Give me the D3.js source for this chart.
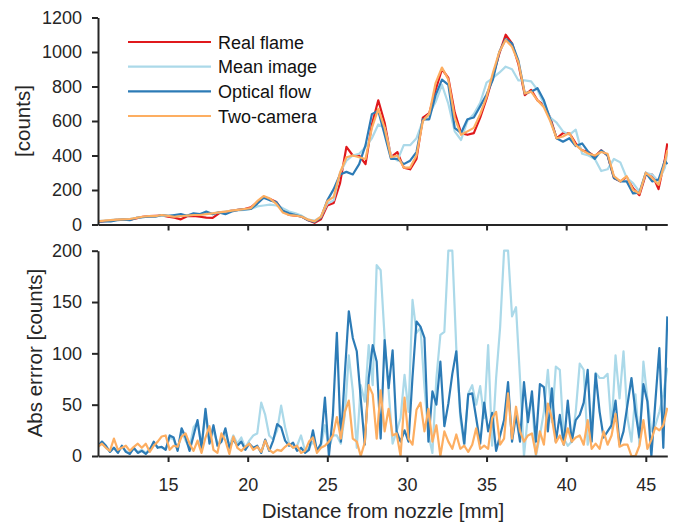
<!DOCTYPE html>
<meta charset="utf-8">
<style>
    body { margin: 0; background: #fff; }
    svg { font-family: "Liberation Sans", Arial, Helvetica, sans-serif; }
    .axis { color: #262626; }
    .axis path, .axis line { stroke: #262626; stroke-width: 2px; }
    .axis text { font-size: 18px; fill: #262626; }
    .title { font-size: 20.5px; fill: #262626; }
    .legend text { font-size: 18px; fill: #111; }
    .series { fill: none; stroke-width: 2.2px; stroke-linejoin: round; }
</style>
<svg width="676" height="525"></svg>
<script src="https://d3js.org/d3.v7.min.js"></script>
<script>

    // top panel: profiles [counts]
    var distTop = [10.6, 11.0, 11.4, 11.8, 12.2, 12.6, 13.0, 13.4, 13.8, 14.2,
        14.6, 15.0, 15.4, 15.8, 16.2, 16.6, 17.0, 17.4, 17.8, 18.2,
        18.6, 19.0, 19.4, 19.8, 20.2, 20.6, 21.0, 21.4, 21.8, 22.2,
        22.6, 23.0, 23.4, 23.8, 24.2, 24.6, 25.0, 25.4, 25.8, 26.2,
        26.6, 27.0, 27.4, 27.8, 28.2, 28.6, 29.0, 29.4, 29.8, 30.2,
        30.6, 31.0, 31.4, 31.8, 32.2, 32.6, 33.0, 33.4, 33.8, 34.2,
        34.6, 35.0, 35.4, 35.8, 36.2, 36.6, 37.0, 37.4, 37.8, 38.2,
        38.6, 39.0, 39.4, 39.8, 40.2, 40.6, 41.0, 41.4, 41.8, 42.2,
        42.6, 43.0, 43.4, 43.8, 44.2, 44.6, 45.0, 45.4, 45.8, 46.2, 46.35];

    var realFlame = [15, 20, 22, 28, 30, 28, 35, 45, 48, 50,
        52, 45, 40, 30, 48, 50, 45, 40, 38, 65,
        72, 80, 85, 90, 100, 130, 160, 148, 130, 80,
        55, 52, 45, 25, 10, 30, 110, 125, 240, 450,
        400, 400, 350, 580, 720, 590, 390, 420, 330, 320,
        380, 620, 645, 780, 900, 850, 650, 530, 520, 530,
        620, 730, 860, 990, 1100, 1050, 930, 750, 780, 720,
        690, 620, 500, 530, 530, 470, 430, 420, 395, 430,
        400, 270, 250, 275, 210, 170, 290, 290, 205, 380, 470];

    var meanImage = [20, 22, 25, 30, 30, 32, 38, 42, 48, 48,
        50, 50, 48, 50, 55, 60, 62, 70, 65, 70,
        75, 80, 82, 85, 90, 105, 110, 115, 110, 95,
        75, 65, 50, 28, 22, 45, 120, 140, 300, 370,
        400, 410, 450, 500, 580, 560, 400, 370, 460, 460,
        500, 600, 640, 710, 810, 700, 540, 490, 600, 640,
        706, 822, 850, 880, 915, 900, 835, 835, 830, 780,
        700, 620, 590, 540, 520, 550, 410, 400, 380, 310,
        320, 380, 360, 270, 240, 190, 300, 290, 250, 330, 420];

    var opticalFlow = [15, 20, 18, 25, 28, 25, 38, 42, 45, 45,
        55, 50, 55, 60, 50, 65, 60, 75, 60, 70,
        60, 75, 85, 88, 90, 120, 155, 140, 130, 80,
        65, 55, 45, 25, 15, 40, 140, 205, 290, 305,
        290, 350, 460, 640, 660, 520, 380, 380, 350, 370,
        420, 610, 610, 750, 840, 810, 560, 530, 610, 620,
        686, 754, 840, 1000, 1075, 1050, 950, 760, 770, 790,
        720, 610, 500, 480, 500, 455, 470, 420, 380, 430,
        400, 270, 250, 250, 180, 185, 300, 250, 260, 370, 350];

    var twoCamera = [18, 22, 25, 28, 30, 32, 38, 45, 48, 48,
        55, 50, 45, 48, 52, 55, 55, 60, 65, 70,
        75, 80, 85, 90, 95, 135, 165, 150, 120, 70,
        55, 52, 45, 28, 18, 45, 135, 160, 300, 390,
        400, 390, 380, 560, 670, 560, 390, 400, 330, 330,
        400, 600, 640, 820, 910, 840, 620, 520, 540, 560,
        640, 740, 880, 1000, 1070, 1030, 940, 760, 770, 720,
        680, 600, 500, 510, 530, 460, 430, 410, 400, 420,
        410, 280, 250, 280, 200, 180, 300, 270, 230, 360, 430];

    // bottom panel: abs error [counts]
    var distErr = [10.6, 10.85, 11.1, 11.35, 11.6, 11.85, 12.1, 12.35, 12.6, 12.85,
        13.1, 13.35, 13.6, 13.85, 14.1, 14.35, 14.6, 14.85, 15.1, 15.35,
        15.6, 15.85, 16.1, 16.35, 16.6, 16.85, 17.1, 17.35, 17.6, 17.85,
        18.1, 18.35, 18.6, 18.85, 19.1, 19.35, 19.6, 19.85, 20.1, 20.35,
        20.6, 20.85, 21.1, 21.35, 21.6, 21.85, 22.1, 22.35, 22.6, 22.85,
        23.1, 23.35, 23.6, 23.85, 24.1, 24.35, 24.6, 24.85, 25.1, 25.35,
        25.6, 25.85, 26.1, 26.35, 26.6, 26.85, 27.1, 27.35, 27.6, 27.85,
        28.1, 28.35, 28.6, 28.85, 29.1, 29.35, 29.6, 29.85, 30.1, 30.35,
        30.6, 30.85, 31.1, 31.35, 31.6, 31.85, 32.1, 32.35, 32.6, 32.85,
        33.1, 33.35, 33.6, 33.85, 34.1, 34.35, 34.6, 34.85, 35.1, 35.35,
        35.6, 35.85, 36.1, 36.35, 36.6, 36.85, 37.1, 37.35, 37.6, 37.85,
        38.1, 38.35, 38.6, 38.85, 39.1, 39.35, 39.6, 39.85, 40.1, 40.35,
        40.6, 40.85, 41.1, 41.35, 41.6, 41.85, 42.1, 42.35, 42.6, 42.85,
        43.1, 43.35, 43.6, 43.85, 44.1, 44.35, 44.6, 44.85, 45.1, 45.35,
        45.6, 45.85, 46.1, 46.35];

    var errMean = [10, 12, 8, 5, 8, 4, 9, 5, 3, 7,
        4, 6, 3, 7, 12, 9, 8, 7, 18, 16,
        6, 24, 15, 8, 28, 33, 10, 40, 14, 25,
        12, 15, 22, 10, 20, 12, 18, 8, 15, 20,
        22, 52, 40, 20, 16, 25, 49, 28, 12, 8,
        10, 20, 5, 8, 14, 6, 10, 30, 8, 20,
        20, 12, 40, 98, 64, 8, 69, 53, 108, 69,
        186, 181, 115, 64, 12, 24, 37, 79, 43, 152,
        120, 125, 67, 21, 3, 76, 118, 121, 200, 200,
        105, 37, 10, 61, 69, 50, 68, 37, 108, 10,
        76, 125, 200, 200, 136, 145, 76, 0, 40, 56,
        0, 20, 43, 84, 33, 87, 84, 17, 10, 14,
        43, 90, 84, 11, 30, 81, 76, 76, 80, 27,
        98, 56, 102, 37, 14, 60, 11, 92, 56, 24,
        30, 43, 60, 86];

    var errFlow = [10, 14, 10, 4, 8, 3, 10, 4, 2, 8,
        3, 5, 2, 6, 14, 8, 9, 6, 20, 18,
        5, 27, 18, 5, 20, 35, 8, 46, 12, 30,
        10, 14, 27, 8, 16, 10, 14, 6, 12, 8,
        10, 3, 16, 5, 15, 31, 28, 15, 10, 13,
        5, 8, 3, 6, 25, 5, 12, 57, 0, 40,
        120, 14, 80, 141, 115, 102, 56, 11, 76, 108,
        92, 17, 113, 66, 103, 24, 14, 25, 14, 77,
        131, 126, 115, 14, 63, 50, 92, 29, 51, 80,
        102, 43, 12, 60, 61, 37, 12, 52, 24, 42,
        5, 20, 35, 72, 14, 40, 14, 72, 33, 63,
        14, 70, 67, 24, 66, 14, 40, 11, 54, 14,
        35, 40, 52, 84, 14, 80, 43, 18, 24, 30,
        54, 11, 24, 50, 76, 43, 18, 70, 53, 0,
        53, 105, 8, 136];

    var errTwoCam = [9, 12, 8, 5, 17, 6, 8, 10, 5, 9,
        12, 8, 12, 4, 10, 14, 19, 20, 6, 10,
        9, 19, 22, 12, 5, 15, 3, 18, 29, 6,
        3, 22, 15, 2, 19, 8, 5, 9, 12, 6,
        9, 4, 15, 6, 3, 6, 5, 9, 12, 8,
        10, 3, 5, 14, 18, 3, 8, 10, 14, 20,
        38, 17, 43, 54, 17, 14, 0, 13, 69, 60,
        17, 64, 24, 46, 20, 22, 0, 57, 17, 11,
        45, 52, 24, 46, 14, 30, 0, 24, 14, 7,
        21, 7, 10, 4, 11, 27, 7, 10, 7, 37,
        43, 11, 17, 61, 17, 48, 24, 14, 20, 22,
        2, 24, 11, 51, 37, 13, 20, 11, 27, 14,
        18, 20, 11, 35, 7, 12, 7, 24, 11, 20,
        41, 9, 11, 11, 0, 0, 10, 35, 7, 16,
        28, 25, 30, 47];

    var seriesNames = ["Real flame", "Mean image", "Optical flow", "Two-camera"];
    var seriesColors = ["#e0191c", "#abd9e9", "#2c7bb6", "#fdae61"];
    var xTicks = [15, 20, 25, 30, 35, 40, 45];
    var yTicksTop = [0, 200, 400, 600, 800, 1000, 1200];
    var yTicksBottom = [0, 50, 100, 150, 200];

    var svg = d3.select("svg");

    var x = d3.scaleLinear().domain([10.6, 46.35]).range([98, 667.3]);
    var yTop = d3.scaleLinear().domain([0, 1200]).range([224.5, 17.5]);
    var yBot = d3.scaleLinear().domain([0, 200]).range([456, 250.7]);

    svg.append("clipPath").attr("id", "clipTop")
        .append("rect").attr("x", 98).attr("y", 17).attr("width", 570).attr("height", 208);
    svg.append("clipPath").attr("id", "clipBot")
        .append("rect").attr("x", 98).attr("y", 249).attr("width", 570).attr("height", 208);

    function drawLines(xs, list, yScale, clip) {
        var g = svg.append("g").attr("clip-path", "url(#" + clip + ")");
        list.forEach(function (s) {
            var line = d3.line()
                .x(function (d, i) { return x(xs[i]); })
                .y(function (d) { return yScale(d); });
            g.append("path")
                .attr("class", "series")
                .attr("stroke", s.color)
                .attr("d", line(s.values));
        });
    }

    drawLines(distTop, [
        {values: realFlame, color: seriesColors[0]},
        {values: meanImage, color: seriesColors[1]},
        {values: opticalFlow, color: seriesColors[2]},
        {values: twoCamera, color: seriesColors[3]}
    ], yTop, "clipTop");

    drawLines(distErr, [
        {values: errMean, color: seriesColors[1]},
        {values: errFlow, color: seriesColors[2]},
        {values: errTwoCam, color: seriesColors[3]}
    ], yBot, "clipBot");

    function styleAxis(g) {
        g.attr("font-size", null).attr("font-family", null).attr("class", "axis");
    }

    var fmt = d3.format("d");

    // top panel axes
    svg.append("g")
        .attr("transform", "translate(0," + 224.5 + ")")
        .call(d3.axisBottom(x).tickValues(xTicks).tickFormat("").tickSize(6).tickSizeOuter(0))
        .call(styleAxis);
    svg.append("g")
        .attr("transform", "translate(98,0)")
        .call(d3.axisLeft(yTop).tickValues(yTicksTop).tickFormat(fmt).tickSize(6).tickPadding(10).tickSizeOuter(0))
        .call(styleAxis);

    // bottom panel axes
    svg.append("g")
        .attr("transform", "translate(0,456)")
        .call(d3.axisBottom(x).tickValues(xTicks).tickFormat(fmt).tickSize(6).tickPadding(16).tickSizeOuter(0))
        .call(styleAxis);
    svg.append("g")
        .attr("transform", "translate(98,0)")
        .call(d3.axisLeft(yBot).tickValues(yTicksBottom).tickFormat(fmt).tickSize(6).tickPadding(10).tickSizeOuter(0))
        .call(styleAxis);

    // axis titles
    svg.append("text").attr("class", "title")
        .attr("transform", "translate(30,121) rotate(-90)")
        .attr("text-anchor", "middle")
        .text("[counts]");
    svg.append("text").attr("class", "title")
        .attr("transform", "translate(42,353) rotate(-90)")
        .attr("text-anchor", "middle")
        .text("Abs errror [counts]");
    svg.append("text").attr("class", "title")
        .attr("x", 383).attr("y", 518)
        .attr("text-anchor", "middle")
        .text("Distance from nozzle [mm]");

    // legend
    var legend = svg.append("g").attr("class", "legend");
    var legendY = d3.scalePoint().domain(seriesNames).range([42, 116]);
    seriesNames.forEach(function (name, i) {
        legend.append("line")
            .attr("x1", 128).attr("x2", 211)
            .attr("y1", legendY(name)).attr("y2", legendY(name))
            .attr("stroke", seriesColors[i]).attr("stroke-width", 2.2);
        legend.append("text")
            .attr("x", 218).attr("y", legendY(name) + 6.5)
            .text(name);
    });
</script>
